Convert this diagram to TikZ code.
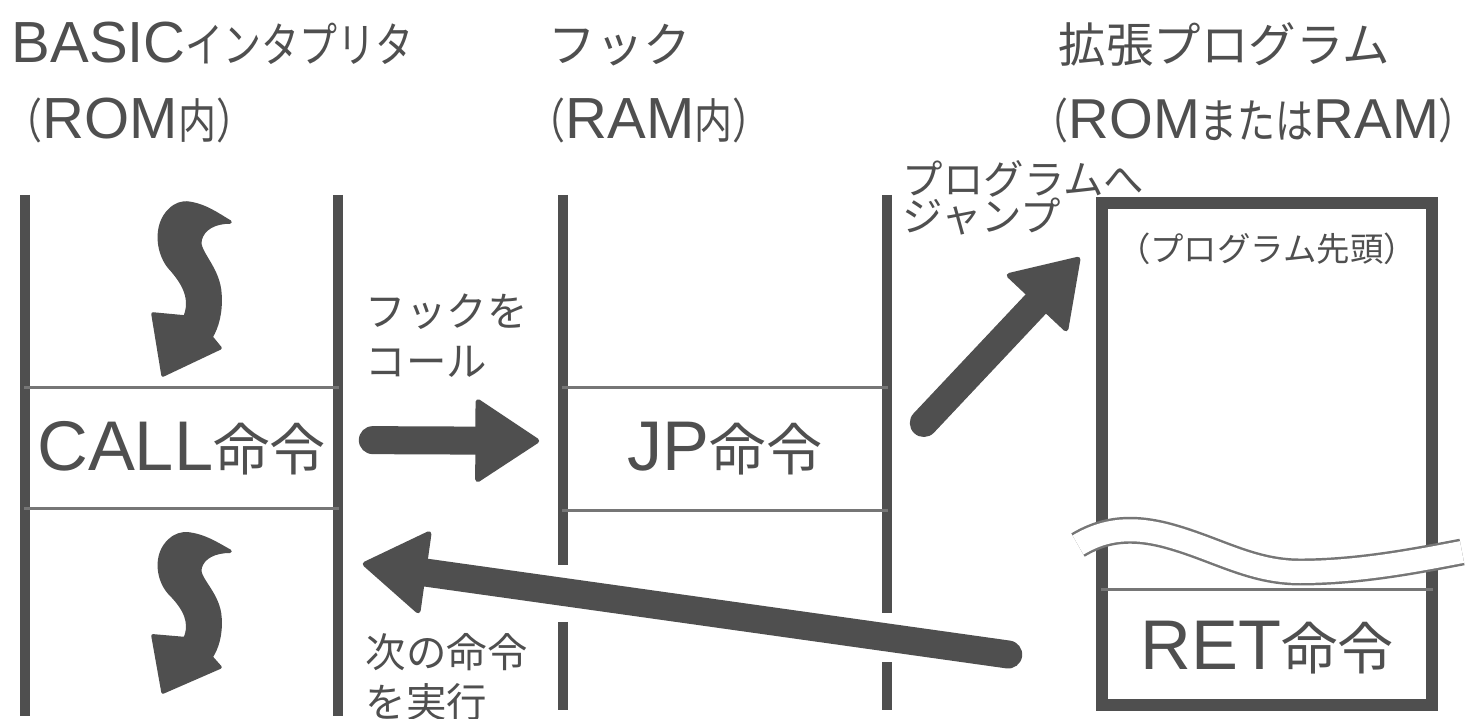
\documentclass[tikz,border=0pt]{standalone}
\usepackage{fontspec}
\setmainfont{Liberation Sans}
\newfontfamily\jp{Noto Sans CJK JP}
\newfontfamily\jpn[FakeStretch=0.8]{Noto Sans CJK JP}
\usetikzlibrary{arrows.meta,positioning}
\definecolor{ink}{HTML}{4F4F4F}
\definecolor{thinline}{HTML}{767676}
\newcommand{\tja}[1]{{\jp\fontsize{13.5}{16}\selectfont #1}}
\newcommand{\tjn}[1]{{\jpn\fontsize{13.5}{16}\selectfont #1}}
\newcommand{\cja}[1]{{\jp\fontsize{16}{19}\selectfont #1}}
\tikzset{
  hdr/.style={anchor=base west, inner sep=0pt, text=ink, font=\fontsize{16.5}{20}\selectfont},
  cell/.style={inner sep=0pt, text=ink, font=\fontsize{20}{24}\selectfont},
  note/.style={anchor=north west, inner sep=0pt, align=left, text=ink,
               font=\jp\fontsize{11.5}{14.2}\selectfont},
  life/.style={draw=ink, line width=3.1pt},
  thinln/.style={draw=thinline, line width=0.8pt},
  progbox/.style={draw=ink, line width=3.6pt, inner sep=0pt},
  blockar/.style={draw=ink, line width=0.28cm, line cap=round,
                  -{Triangle[length=0.66cm, width=0.86cm, line width=1.5pt, round]}},
  squig/.pic={
    \filldraw[ink, line width=1pt, line join=round]
      (24,-172) .. controls (42,-170) and (55,-160) .. (67,-153)
      .. controls (52,-153) and (40,-147) .. (37,-135)
      .. controls (34,-123) and (56,-107) .. (57,-80)
      .. controls (58,-62) and (54,-48) .. (48,-38)
      -- (57,-27) -- (0,0) -- (-10,-61) -- (22,-58)
      .. controls (29,-75) and (22,-90) .. (9,-105)
      .. controls (-6,-120) and (-9,-150) .. (7,-165)
      .. controls (13,-171) and (19,-172) .. cycle;
  }
}

\begin{document}
\begin{tikzpicture}[x=0.01cm,y=-0.01cm]
  \path[use as bounding box, fill=white] (0,0) rectangle (1479,719);

  \node[hdr] (basic) at (11,63) {BASIC\tjn{インタプリタ}};
  \node[hdr] (rom) at (4,139) {\tjn{（}ROM\tjn{内）}};
  \node[hdr] (hook) at (548,63) {\tja{フック}};
  \node[hdr] (ram) at (527,139) {\tjn{（}RAM\tjn{内）}};
  \node[hdr] (ext) at (1058,63) {\tja{拡張プログラム}};
  \node[hdr, font=\fontsize{16}{20}\selectfont] (romram) at (1030,139) {\tjn{（}ROM\tjn{または}RAM\tjn{）}};

  \draw[life] (25,195) -- (25,716) (338,195) -- (338,716);
  \draw[life] (563,195) -- (563,565) (563,622) -- (563,710);
  \draw[life] (887,195) -- (887,613) (887,662) -- (887,710);

  \node[cell, minimum width=3.13cm, minimum height=1.2cm] (call) at (181.5,448) {CALL\cja{命令}};
  \node[cell, minimum width=3.24cm, minimum height=1.22cm] (jp) at (725,449) {JP\cja{命令}};
  \draw[thinln] (call.north west) -- (call.north east) (call.south west) -- (call.south east);
  \draw[thinln] (jp.north west) -- (jp.north east) (jp.south west) -- (jp.south east);

  \node[progbox, minimum width=3.3cm, minimum height=5.02cm] (prog) at (1267,454) {};
  \node[cell, minimum width=3.3cm, minimum height=1.15cm] (ret) at (1267,647.5) {RET\cja{命令}};
  \draw[thinln] (ret.north west) -- (ret.north east);
  \node[text=ink, inner sep=0pt, font=\jp\fontsize{9.5}{11}\selectfont] (head) at (1267,249) {（プログラム先頭）};
  \draw[draw=thinline, line width=0.7pt, double=white, double distance=0.22cm]
    (1078,545) .. controls (1100,532) and (1125,525) .. (1165,535)
    .. controls (1215,548) and (1250,572) .. (1300,572)
    .. controls (1360,572) and (1420,560) .. (1462,552);

  \node[note] (calllbl) at (365,293) {フックを\\コール};
  \node[note] (nextlbl) at (365,633) {次の命令\\を実行};
  \node[note, font=\jp\fontsize{11.5}{10.5}\selectfont] (jumplbl) at (902,160) {プログラムへ\\ジャンプ};

  \draw[blockar, shorten <=0.34cm, shorten >=0.23cm] ([yshift=0.08cm]call.east) -- ([yshift=0.08cm]jp.west);
  \draw[blockar] ([shift={(36,-26)}]jp.east) -- ([shift={(-16,61)}]prog.north west);
  \draw[blockar] ([shift={(-93,7)}]ret.west) -- ([shift={(24,55)}]call.south east);

  \pic at (163,375) {squig};
  \pic[yscale=0.92] at (163,692) {squig};
\end{tikzpicture}
\end{document}
